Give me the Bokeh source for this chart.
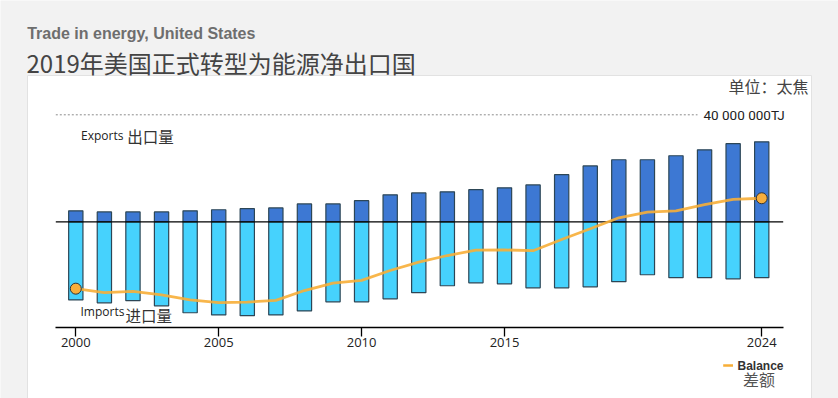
from bokeh.plotting import figure
from bokeh.models import Range1d, FixedTicker, LinearAxis, ColumnDataSource
from bokeh.core.properties import value
from bokeh.embed import file_html
from bokeh.resources import INLINE

# ---- data (terajoules) ----
years = list(range(2000, 2025))
exports = [4.1, 3.7, 3.7, 3.7, 4.1, 4.5, 4.9, 5.2, 6.7, 6.7, 7.9, 10.1, 10.8,
           11.2, 12.0, 12.7, 13.8, 17.6, 20.9, 23.2, 23.2, 24.7, 26.9, 29.2, 29.9]
imports = [29.2, 30.3, 29.5, 31.4, 34.0, 34.8, 35.1, 34.8, 33.3, 29.9, 29.9, 28.8, 26.5,
           23.9, 22.8, 23.2, 24.7, 24.7, 24.3, 22.4, 19.8, 20.9, 20.9, 21.3, 20.9]
balance = [-25.0, -26.5, -26.0, -27.3, -29.2, -30.2, -30.0, -29.4, -25.7, -22.9, -21.9, -18.2, -15.1,
           -12.6, -10.6, -10.5, -10.8, -6.6, -2.6, 1.5, 3.6, 4.1, 6.4, 8.4, 8.8]
exports_tj = [v * 1_000_000 for v in exports]
imports_tj = [-v * 1_000_000 for v in imports]
balance_tj = [v * 1_000_000 for v in balance]
tick_years = [2000, 2005, 2010, 2015, 2024]
grid_values = [40_000_000]
grid_labels = ["40 000 000TJ"]

# ---- page-pixel -> data helpers (layout only) ----
PX_YEAR = 28.58
X2000 = 75.3
ZERO_Y = 221.3
PX_PER_TJ = 107.0 / 40_000_000
W, H = 838, 398


def X(px):
    return 2000 + (px - X2000) / PX_YEAR


def Y(py):
    return (ZERO_Y - py) / PX_PER_TJ


p = figure(width=W, height=H, output_backend="svg", toolbar_location=None,
           x_range=Range1d(X(0), X(W)), y_range=Range1d(Y(H), Y(0)),
           x_axis_type=None, y_axis_type=None, min_border=0, title=None)
p.background_fill_color = "#f2f2f2"
p.border_fill_color = "#f2f2f2"
p.outline_line_color = None

# white panel
p.quad(left=X(27), right=X(811), top=Y(75), bottom=Y(420),
       fill_color="white", line_color="#e2e2e2", line_width=1)

# dotted gridline
p.segment(x0=[X(55.3)], x1=[X(697)], y0=grid_values, y1=grid_values,
          line_color="#8c8c8c", line_width=1, line_dash="2 2")
p.text(x=[X(703)], y=grid_values, text=grid_labels, text_font=value("Roboto"),
       text_font_size="13.5px", text_color="#222222", text_baseline="middle", text_align="left")

src = ColumnDataSource(dict(year=years, exp=exports_tj, imp=imports_tj, bal=balance_tj))
p.vbar(x="year", top="exp", bottom=0, width=0.5, source=src,
       fill_color="#3d78d3", line_color="#2c4656", line_width=1.2)
p.vbar(x="year", top=0, bottom="imp", width=0.5, source=src,
       fill_color="#46d2fd", line_color="#2c4656", line_width=1.2)

# zero line
p.segment(x0=[X(55.3)], x1=[X(782.7)], y0=[0], y1=[0], line_color="black", line_width=1.3)

# balance
p.line(x="year", y="bal", source=src, line_color="#f7ae37", line_width=2.8, line_alpha=0.9)
p.scatter(x=[years[0], years[-1]], y=[balance_tj[0], balance_tj[-1]], size=11,
          fill_color="#f7ae3c", line_color="#333333", line_width=1)

# x axis
ax = LinearAxis(fixed_location=Y(327.3), ticker=FixedTicker(ticks=tick_years),
                bounds=(X(55.3), X(782.7)))
ax.axis_line_color = "black"
ax.axis_line_width = 1.3
ax.major_tick_line_color = "black"
ax.major_tick_line_width = 1.3
ax.major_tick_out = 9
ax.major_tick_in = 0
ax.minor_tick_line_color = None
ax.major_label_text_font = "Open Sans"
ax.major_label_text_font_size = "13px"
ax.major_label_text_color = "#222222"
ax.major_label_standoff = 1
ax.major_label_overrides = {t: str(t) for t in tick_years}
p.add_layout(ax, "below")

# titles
p.text(x=[X(26.7)], y=[Y(32.7)], text=["Trade in energy, United States"],
       text_font=value("Liberation Sans"), text_font_size="16px", text_font_style="bold",
       text_color="#6e6e6e", text_baseline="alphabetic", text_align="left")
p.text(x=[X(26)], y=[Y(62)], text=["2019年美国正式转型为能源净出口国"],
       text_font=value("Noto Sans CJK SC"), text_font_size="24px", text_color="#444444",
       text_baseline="alphabetic", text_align="left")
p.text(x=[X(808)], y=[Y(85)], text=["单位：太焦"], text_font=value("Noto Sans CJK SC"),
       text_font_size="16px", text_color="#444444", text_baseline="middle", text_align="right")

# series labels
p.text(x=[X(80.5)], y=[Y(135)], text=["Exports"], text_font=value("Open Sans"),
       text_font_size="12px", text_color="#222222", text_baseline="middle", text_align="left")
p.text(x=[X(126.7)], y=[Y(135)], text=["出口量"], text_font=value("Noto Sans CJK SC"),
       text_font_size="15.5px", text_color="#333333", text_baseline="middle", text_align="left")
p.text(x=[X(80)], y=[Y(311)], text=["Imports"], text_font=value("Open Sans"),
       text_font_size="12px", text_color="#222222", text_baseline="middle", text_align="left")
p.text(x=[X(125)], y=[Y(314)], text=["进口量"], text_font=value("Noto Sans CJK SC"),
       text_font_size="15.5px", text_color="#333333", text_baseline="middle", text_align="left")

# legend
p.segment(x0=[X(722.7)], x1=[X(732.5)], y0=[Y(365)], y1=[Y(365)], line_color="#f7ae37", line_width=2.5)
p.text(x=[X(737)], y=[Y(365)], text=["Balance"], text_font=value("Liberation Sans"),
       text_font_size="12px", text_font_style="bold", text_color="#333333",
       text_baseline="middle", text_align="left")
p.text(x=[X(742.5)], y=[Y(378)], text=["差额"], text_font=value("Noto Sans CJK SC"),
       text_font_size="16px", text_color="#555555", text_baseline="middle", text_align="left")

open("out.html", "w").write(file_html(p, INLINE))
